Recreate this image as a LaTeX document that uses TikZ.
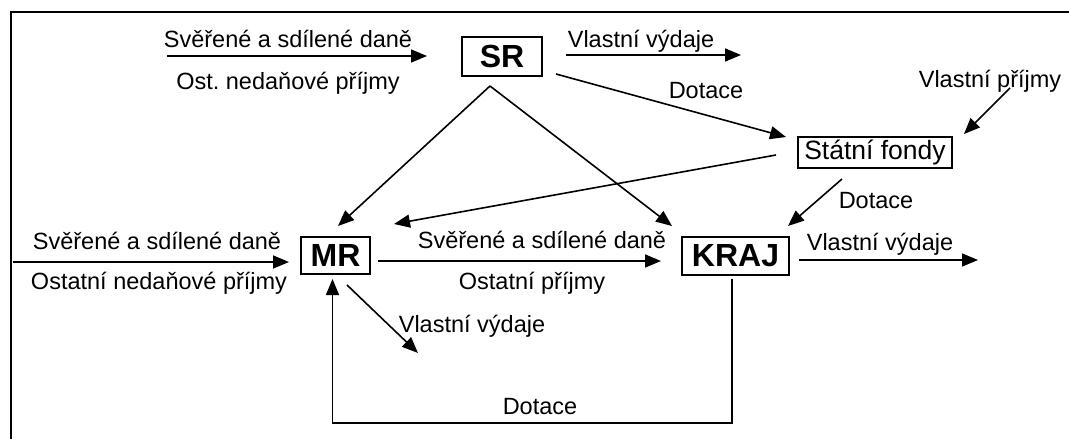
\documentclass[tikz,border=0pt]{standalone}
\usepackage{fontspec}
\setmainfont{Liberation Sans}
\usetikzlibrary{positioning,arrows.meta,calc}

\begin{document}
\begin{tikzpicture}[x=1pt, y=-1pt,
    box/.style={rectangle, draw=black, line width=2pt, inner sep=0pt,
                font=\bfseries\fontsize{32}{38}\selectfont},
    txt/.style={anchor=base, inner sep=0pt, font=\fontsize{23.5}{28}\selectfont},
    arrow/.style={-{Triangle[length=16pt, width=13pt]}, line width=1.6pt}
]
    \useasboundingbox (0,0) rectangle (1069,439);
    \begin{scope}
        \clip (0,0) rectangle (1069,439);
        \draw[line width=1.6pt] (11,460) |- (1090,12);
    \end{scope}

    \node[box, minimum width=80pt, minimum height=39pt] (SR) at (502,56.5) {SR};
    \node[box, minimum width=69pt, minimum height=37pt] (MR) at (335.5,255.5) {MR};
    \node[box, minimum width=107pt, minimum height=38pt] (KRAJ) at (735.5,256) {KRAJ};
    \node[box, font=\fontsize{26.5}{30}\selectfont, minimum width=154pt,
          minimum height=31pt] (fondy) at (875,152.5) {Státní fondy};

    \node[txt] (danSR) at (288,47) {Svěřené a sdílené daně};
    \node[txt] (nedanSR) at (288,89) {Ost.\ nedaňové příjmy};
    \node[txt] (vydSR) at (641,47) {Vlastní výdaje};
    \node[txt] (dotSR) at (706,98) {Dotace};
    \node[txt] (prijFondy) at (990,87) {Vlastní příjmy};
    \node[txt] (dotFondy) at (876,208) {Dotace};
    \node[txt] (vydKRAJ) at (880,250) {Vlastní výdaje};
    \node[txt] (danMR) at (157,249) {Svěřené a sdílené daně};
    \node[txt] (nedanMR) at (159,289) {Ostatní nedaňové příjmy};
    \node[txt] (danKRAJ) at (542,248) {Svěřené a sdílené daně};
    \node[txt] (ostKRAJ) at (532,289) {Ostatní příjmy};
    \node[txt] (vydMR) at (472,332) {Vlastní výdaje};
    \node[txt] (dotMR) at (540,414) {Dotace};

    \coordinate (inSR) at (167,56);
    \coordinate (outSR) at (741,55);
    \coordinate (inFondy) at (1010,88);
    \coordinate (inMR) at (13,262);
    \coordinate (outKRAJ) at (978,260);
    \coordinate (outMR) at (418,353);

    \draw[arrow, shorten >=34pt] (inSR) -- ([yshift=0.5pt]SR.west);
    \draw[arrow, shorten <=23pt] ([yshift=1.5pt]SR.east) -- (outSR);
    \draw[arrow] ([shift={(13,-3)}]SR.south east) -- ([shift={(-11,1)}]fondy.north west);
    \draw[arrow] ([shift={(-12,9)}]SR.south) -- ([shift={(2.5,-10)}]MR.north);
    \draw[arrow] ([shift={(-12,9)}]SR.south) -- ([shift={(-9,-10)}]KRAJ.north west);
    \draw[arrow] ([shift={(-21,2.5)}]fondy.west) -- ([shift={(23,-12)}]MR.north east);
    \draw[arrow] (inFondy) -- ([shift={(11,-2)}]fondy.north east);
    \draw[arrow] ([shift={(-33,10)}]fondy.south) -- ([shift={(-2,-10)}]KRAJ.north east);
    \draw[arrow] (inMR) -- ([shift={(-11,6.5)}]MR.west);
    \draw[arrow] ([shift={(7,5.5)}]MR.east) -- ([shift={(-20,5)}]KRAJ.west);
    \draw[arrow] ([shift={(9,4)}]KRAJ.east) -- (outKRAJ);
    \draw[arrow] ([shift={(11.5,10)}]MR.south) -- (outMR);
    \draw[arrow] ([shift={(-3.5,3)}]KRAJ.south) -- ++(0,144) -| ([shift={(-3,4)}]MR.south);
\end{tikzpicture}
\end{document}
